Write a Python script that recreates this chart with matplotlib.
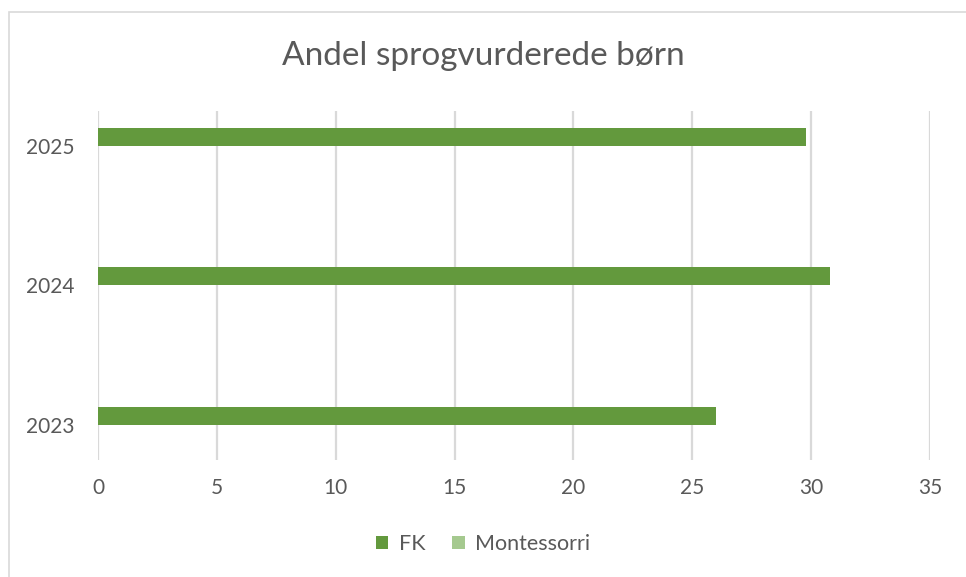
import matplotlib.pyplot as plt
from matplotlib.patches import Rectangle
import numpy as np

years = ['2023', '2024', '2025']
fk = [26.0, 30.8, 29.8]
montessorri = [0, 0, 0]
xticks = [0, 5, 10, 15, 20, 25, 30, 35]

plt.rcParams['font.family'] = ['Lato', 'DejaVu Sans']

fig = plt.figure(figsize=(9.66, 5.77), dpi=100)
ax = fig.add_axes([0.1014, 0.2028, 0.8613, 0.6049])

# chart frame (runs off the right/bottom edge like the screenshot)
fig.patches.append(Rectangle((9 / 966, -0.05), 1.2, 1 - 12 / 577 + 0.05,
                             transform=fig.transFigure, fill=False,
                             edgecolor='#d9d9d9', linewidth=1.2))

y = np.arange(len(years))
h = 0.13
ax.barh(y + h / 2, fk, height=h, color='#63993d', label='FK')
ax.barh(y - h / 2, montessorri, height=h, color='#a5c98f', label='Montessorri')

ax.set_xlim(0, 35)
ax.set_ylim(-0.25, 2.25)
ax.set_xticks(xticks)
ax.set_yticks(y)
ax.set_yticklabels(years)
ax.tick_params(axis='both', length=0, labelsize=15, colors='#595959')
ax.tick_params(axis='x', pad=13)
ax.tick_params(axis='y', pad=17)
ax.grid(axis='x', color='#d9d9d9', linewidth=1.6)
ax.set_axisbelow(True)
for s in ax.spines.values():
    s.set_visible(False)

fig.text(0.5, 0.903, 'Andel sprogvurderede børn', ha='center', va='center',
         fontsize=24, color='#595959')

fig.legend(loc='center', bbox_to_anchor=(0.5, 0.057), ncol=2, frameon=False,
           fontsize=15.5, labelcolor='#595959', handlelength=0.6, handleheight=0.6,
           handletextpad=0.5, columnspacing=1.2)

fig.savefig('out.png', dpi=100)
